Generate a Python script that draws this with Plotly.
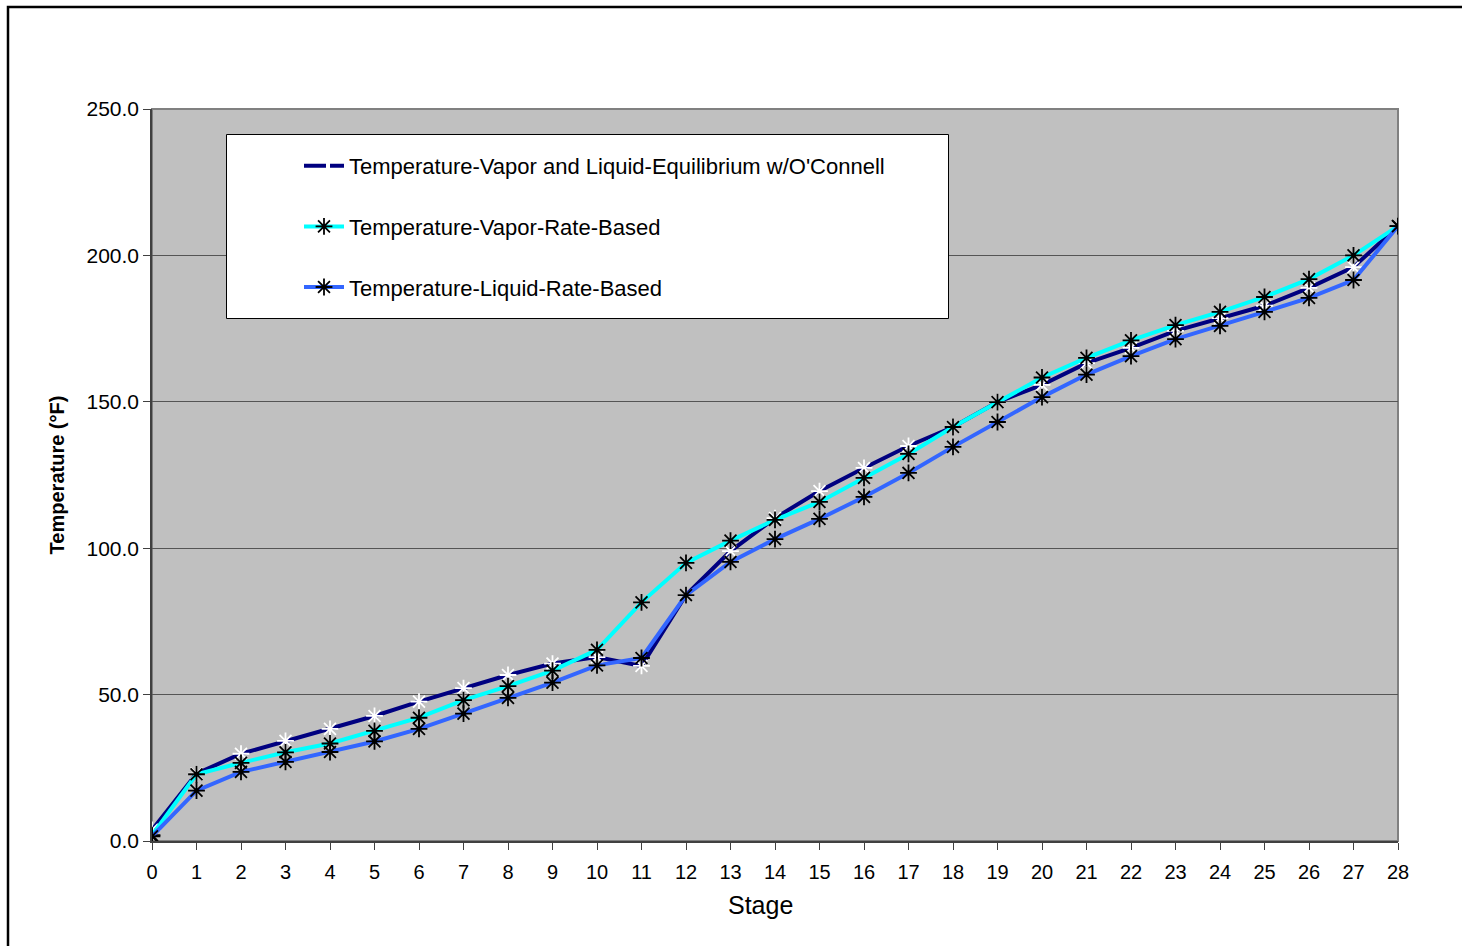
import plotly.graph_objects as go

stages = list(range(29))

temp_equilibrium = [3.8, 23.0, 29.8, 34.2, 38.3, 42.7, 47.6, 52.2, 56.7, 60.6, 62.8, 59.8, 84.0,
                    99.0, 110.3, 119.5, 127.4, 134.9, 141.4, 149.9, 155.8, 163.2, 168.4, 174.2,
                    178.6, 182.8, 188.9, 196.0, 210.0]
temp_vapor_rate = [2.0, 22.8, 26.7, 30.3, 33.3, 37.6, 42.1, 48.1, 52.9, 58.2, 65.3, 81.5, 95.0,
                   102.6, 109.7, 115.8, 124.0, 132.2, 141.4, 149.9, 158.3, 165.0, 171.0, 176.2,
                   180.7, 185.8, 191.9, 200.0, 210.0]
temp_liquid_rate = [1.6, 17.2, 23.6, 27.0, 30.4, 34.0, 38.3, 43.5, 48.9, 54.1, 60.0, 62.5, 84.0,
                    95.3, 103.1, 110.0, 117.5, 125.7, 134.6, 143.1, 151.6, 159.3, 165.6, 171.4,
                    175.9, 180.7, 185.5, 191.6, 210.0]

names = ["Temperature-Vapor and Liquid-Equilibrium w/O'Connell",
         "Temperature-Vapor-Rate-Based",
         "Temperature-Liquid-Rate-Based"]
y_ticks = [0, 50, 100, 150, 200, 250]

NAVY = "#000080"
CYAN = "#00FFFF"
BLUE = "#3366FF"

fig = go.Figure()

# equilibrium series as drawn in plot (white asterisks)
fig.add_trace(go.Scatter(
    x=stages, y=temp_equilibrium, mode="lines+markers", showlegend=False,
    line=dict(color=NAVY, width=4),
    marker=dict(symbol="asterisk-open", size=14, color="white", line=dict(color="white", width=1.8)),
))
fig.add_trace(go.Scatter(
    x=stages, y=temp_vapor_rate, mode="lines+markers", name=names[1],
    legendgroup="b", legendrank=2,
    line=dict(color=CYAN, width=4),
    marker=dict(symbol="asterisk-open", size=14, color="black", line=dict(color="black", width=1.8)),
))
fig.add_trace(go.Scatter(
    x=stages, y=temp_liquid_rate, mode="lines+markers", name=names[2],
    legendgroup="c", legendrank=3,
    line=dict(color=BLUE, width=4),
    marker=dict(symbol="asterisk-open", size=14, color="black", line=dict(color="black", width=1.8)),
))
# legend entry for equilibrium series (dashed, as in the original legend)
fig.add_trace(go.Scatter(
    x=[None], y=[None], mode="lines", name=names[0],
    legendgroup="a", legendrank=1,
    line=dict(color=NAVY, width=4, dash="22px,4px"),
))

L, R, T, B = 152, 64, 109, 105
PW = 1462 - L - R
PH = 946 - T - B


def px(x):
    return (x - L) / PW


def py(y):
    return (946 - B - y) / PH


shapes = [
    # outer frame
    dict(type="rect", xref="paper", yref="paper",
         x0=px(8), x1=px(1475), y0=py(960), y1=py(7),
         line=dict(color="black", width=2.5), fillcolor="rgba(0,0,0,0)", layer="below"),
    # legend box
    dict(type="rect", xref="paper", yref="paper",
         x0=px(226.5), x1=px(948.5), y0=py(318.5), y1=py(134.5),
         line=dict(color="black", width=1), fillcolor="white", layer="above"),
]

fig.update_layout(
    width=1462, height=946,
    margin=dict(l=L, r=R, t=T, b=B),
    paper_bgcolor="white",
    plot_bgcolor="#C0C0C0",
    font=dict(family="Liberation Sans, Arial, sans-serif", color="black", size=21),
    shapes=shapes,
    showlegend=True,
    legend=dict(
        x=px(299), y=py(145), xanchor="left", yanchor="top",
        bgcolor="rgba(0,0,0,0)", borderwidth=0,
        font=dict(size=22, color="black"),
        traceorder="grouped", tracegroupgap=29,
        itemwidth=40,
    ),
    xaxis=dict(
        range=[0, 28], tickmode="array", tickvals=stages, ticktext=[str(s) for s in stages],
        showgrid=False, zeroline=False,
        showline=True, linecolor="#404040", linewidth=1.5, mirror=False,
        ticks="outside", ticklen=7, tickcolor="#404040",
        tickfont=dict(size=20), ticklabelstandoff=5,
    ),
    yaxis=dict(
        range=[0, 250], tickmode="array", tickvals=y_ticks,
        ticktext=[f"{v:.1f}" for v in y_ticks],
        showgrid=True, gridcolor="#555555", gridwidth=1.2,
        zeroline=False,
        showline=True, linecolor="#404040", linewidth=1.5,
        ticks="outside", ticklen=7, tickcolor="#404040",
        tickfont=dict(size=21),
        title=dict(text="<b>Temperature (°F)</b>", font=dict(size=20), standoff=16),
    ),
    annotations=[
        dict(text="Stage", xref="paper", yref="paper", x=px(760), y=py(905),
             xanchor="center", yanchor="middle", showarrow=False, font=dict(size=25)),
    ],
)

# border of plot area
fig.add_shape(type="rect", xref="paper", yref="paper", x0=0, x1=1, y0=0, y1=1,
              line=dict(color="#808080", width=2), fillcolor="rgba(0,0,0,0)", layer="below")

fig.write_html("out.html")
